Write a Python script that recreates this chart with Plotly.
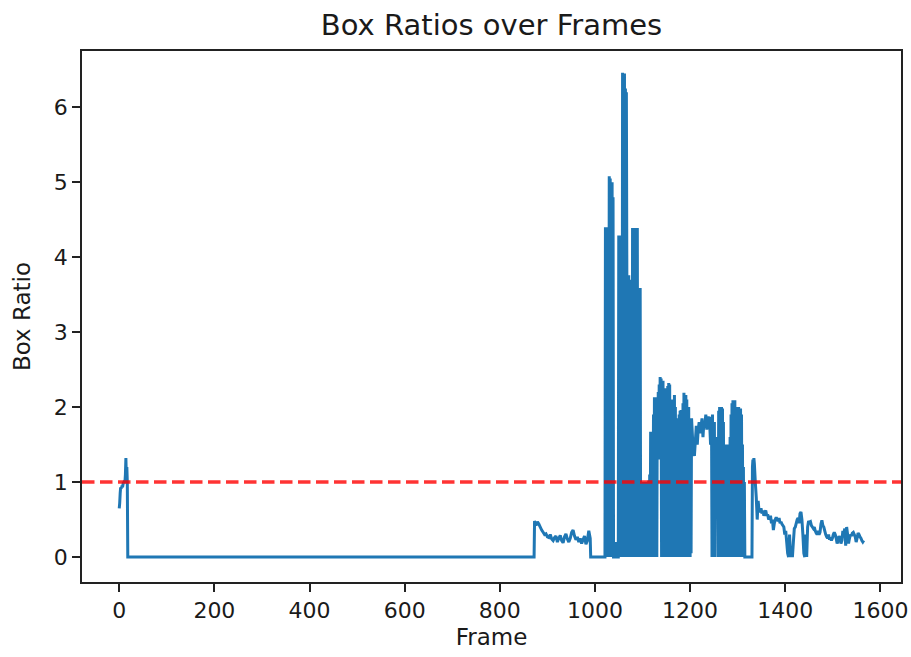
import plotly.graph_objects as go

# Box ratio per frame, grouped into recording segments.
# Each sampled segment: (first frame, frame step, ratio readings).

# warm-up at the very start of the clip
warmup_start, warmup_step = 0, 1
warmup_ratio = [0.65, 0.72, 0.85, 0.93, 0.92, 0.93, 0.95, 0.93, 0.97, 1.0,
                0.98, 1.02, 1.0, 1.1, 1.32, 1.05, 1.2, 1.0]

# long stretch without a detection
idle1_frames = [18, 872]
idle1_ratio = [0.0, 0.0]

# first low-amplitude motion
motion_start, motion_step = 873, 3
motion_ratio = [0.48, 0.42, 0.47, 0.44, 0.40, 0.36, 0.33, 0.30, 0.31, 0.27,
                0.26, 0.30, 0.24, 0.22, 0.26, 0.28, 0.20, 0.25, 0.29, 0.22,
                0.19, 0.27, 0.31, 0.24, 0.20, 0.25, 0.33, 0.36, 0.28, 0.23,
                0.27, 0.20, 0.25, 0.18, 0.23, 0.28, 0.17, 0.22, 0.35, 0.25]

idle2_frames = [991, 1019]
idle2_ratio = [0.0, 0.0]

# burst of unstable boxes
burst_start, burst_step = 1020, 1
burst_ratio = [
    0.0, 0.0, 4.40, 0.05, 4.38, 0.0, 4.35, 0.1, 4.40, 0.0,
    5.08, 0.1, 5.05, 0.0, 4.9, 0.2, 5.0, 0.0, 4.8, 0.0,
    0.0, 0.0, 0.0, 0.2, 0.0, 0.0, 0.0, 0.0, 0.0, 0.0,
    4.29, 0.0, 4.25, 0.1, 4.29, 0.0, 4.2, 0.3, 6.46, 0.0,
    6.4, 0.2, 6.45, 0.0, 6.25, 0.1, 6.2, 3.76, 0.0, 3.7,
    0.4, 3.76, 0.0, 3.7, 0.1, 3.6, 0.0, 3.5, 0.2, 4.39,
    0.0, 4.35, 0.1, 4.39, 0.0, 4.3, 2.5, 4.2, 2.5, 4.39,
    0.0, 3.59, 0.1, 3.55, 0.0, 3.59, 0.2, 1.0, 0.0, 0.98,
    0.1, 1.0, 0.0, 0.95, 0.0, 1.0, 0.2, 0.97, 0.0, 1.0,
    0.1, 0.99, 0.0, 1.02, 0.0, 1.1, 0.0, 1.67, 0.0, 1.6,
    0.1, 1.67, 0.0, 1.9, 0.1, 2.13, 0.0, 2.0, 0.2, 2.13,
    0.0, 2.1, 1.4, 2.2, 1.35, 2.3, 1.3, 2.4, 1.4, 2.38,
    0.0, 2.3, 0.0, 2.35, 0.1, 2.2, 0.0, 2.0, 0.3, 2.25,
    0.0, 2.1, 0.0, 2.28, 0.1, 2.32, 0.0, 2.3, 0.0, 2.0,
    0.2, 1.95, 0.0, 2.1, 0.0, 1.9, 0.1, 2.16, 0.0, 2.0,
    0.0, 1.85, 0.2, 1.7, 0.0, 1.75, 0.0, 1.9, 0.1, 1.95,
    0.0, 1.96, 0.0, 1.9, 0.0, 2.05, 0.1, 2.19, 0.0, 2.15,
    0.0, 2.16, 0.0, 2.1, 0.1, 1.9, 0.0, 2.0, 0.0, 1.85,
    0.0, 1.8, 0.05,
]

# steadier plateau inside the burst
plateau_start, plateau_step = 1203, 2
plateau_ratio = [1.85, 1.6, 1.4, 1.35, 1.55, 1.75, 1.5, 1.7, 1.8, 1.65,
                 1.75, 1.85, 1.6, 1.8, 1.78, 1.9, 1.7, 1.85, 1.87, 1.8,
                 1.5, 1.87]

# second half of the burst
burst2_start, burst2_step = 1246, 1
burst2_ratio = [
    0.0, 1.9, 0.0, 1.7, 0.1, 1.8, 0.0, 1.6, 1.5, 1.45,
    1.6, 1.5, 1.55, 0.0, 1.95, 0.0, 2.0, 0.1, 1.98, 0.0,
    2.0, 0.0, 1.98, 0.2, 1.8, 0.0, 1.5, 0.0, 1.45, 0.1,
    1.5, 0.0, 1.3, 0.0, 1.5, 0.0, 1.4, 0.1, 1.6, 0.0,
    1.9, 0.0, 2.05, 0.1, 2.09, 0.0, 2.05, 0.0, 2.09, 0.2,
    1.9, 0.0, 2.0, 0.0, 1.95, 0.1, 2.0, 0.0, 1.98, 0.0,
    1.98, 0.1, 1.9, 0.0, 1.5, 0.0, 1.2, 0.0, 1.0, 0.0,
    0.0, 0.0, 0.0, 0.0, 0.0, 0.0, 0.0, 0.0, 0.0, 0.0,
    0.0, 0.0, 0.0, 0.0, 0.0, 1.2, 1.3, 1.15, 1.32, 1.25,
]

# settling tail
tail_start, tail_step = 1337, 2
tail_ratio = [
    1.0, 0.8, 0.5, 0.75, 0.6, 0.62, 0.65, 0.58, 0.62, 0.55,
    0.6, 0.62, 0.55, 0.57, 0.5, 0.52, 0.55, 0.45, 0.5, 0.36,
    0.45, 0.5, 0.53, 0.5, 0.48, 0.52, 0.45, 0.47, 0.44, 0.42,
    0.4, 0.3, 0.35, 0.2, 0.05, 0.0, 0.3, 0.0, 0.1, 0.0,
    0.2, 0.38, 0.4, 0.45, 0.5, 0.52, 0.45, 0.58, 0.6, 0.5,
    0.3, 0.05, 0.0, 0.3, 0.0, 0.4, 0.48, 0.46, 0.47, 0.42,
    0.4, 0.38, 0.4, 0.35, 0.32, 0.3, 0.35, 0.3, 0.33, 0.44,
    0.49, 0.42, 0.4, 0.35, 0.3, 0.27, 0.25, 0.3, 0.23, 0.26,
    0.22, 0.25, 0.3, 0.33, 0.3, 0.25, 0.18, 0.22, 0.28, 0.25,
    0.18, 0.22, 0.35, 0.3, 0.38, 0.15, 0.4, 0.3, 0.18, 0.25,
    0.3, 0.28, 0.32, 0.33, 0.3, 0.27, 0.2, 0.25, 0.32, 0.3,
    0.27, 0.25, 0.22, 0.2, 0.22,
]

threshold = 1.0
x_ticks = [0, 200, 400, 600, 800, 1000, 1200, 1400, 1600]
y_ticks = [0, 1, 2, 3, 4, 5, 6]


def sampled(start, step, values):
    return [start + step * i for i in range(len(values))], list(values)


frames, ratios = [], []
for fr, rv in [
    sampled(warmup_start, warmup_step, warmup_ratio),
    (idle1_frames, idle1_ratio),
    sampled(motion_start, motion_step, motion_ratio),
    (idle2_frames, idle2_ratio),
    sampled(burst_start, burst_step, burst_ratio),
    sampled(plateau_start, plateau_step, plateau_ratio),
    sampled(burst2_start, burst2_step, burst2_ratio),
    sampled(tail_start, tail_step, tail_ratio),
]:
    frames.extend(fr)
    ratios.extend(rv)

pad = 0.05 * (max(frames) - min(frames))
x_range = [min(frames) - pad, max(frames) + pad]

font = "DejaVu Sans"
ink = "#1a1a1a"

fig = go.Figure()
fig.add_trace(go.Scatter(
    x=frames, y=ratios, mode="lines",
    line=dict(color="#1f77b4", width=3, simplify=False),
    showlegend=False, hoverinfo="x+y",
))

fig.add_shape(
    type="line", xref="paper", yref="y", x0=0, x1=1, y0=threshold, y1=threshold,
    line=dict(color="rgba(255,0,0,0.8)", width=3.4, dash="12.5px,5.5px"),
    layer="above",
)

axis_common = dict(
    showline=True, mirror=True, linecolor="#222222", linewidth=1.8,
    ticks="outside", ticklen=8, tickwidth=1.8, tickcolor="#222222",
    showgrid=False, zeroline=False, automargin=False,
    tickfont=dict(family=font, size=22, color=ink),
)

fig.update_layout(
    width=911, height=657,
    margin=dict(l=82, r=10, t=51, b=75),
    paper_bgcolor="white", plot_bgcolor="white",
    title=dict(
        text="Box Ratios over Frames",
        x=0.5, xref="paper", y=1 - 25 / 657, yref="container",
        xanchor="center", yanchor="middle",
        font=dict(family=font, size=29, color=ink),
    ),
    xaxis=dict(
        range=x_range, tickvals=x_ticks, ticktext=[str(t) for t in x_ticks],
        title=dict(text="Frame", standoff=7,
                   font=dict(family=font, size=23, color=ink)),
        **axis_common,
    ),
    yaxis=dict(
        range=[-0.333, 6.75], tickvals=y_ticks, ticktext=[str(t) for t in y_ticks],
        title=dict(text="Box Ratio", standoff=17,
                   font=dict(family=font, size=23, color=ink)),
        **axis_common,
    ),
)

fig.write_html("out.html")
